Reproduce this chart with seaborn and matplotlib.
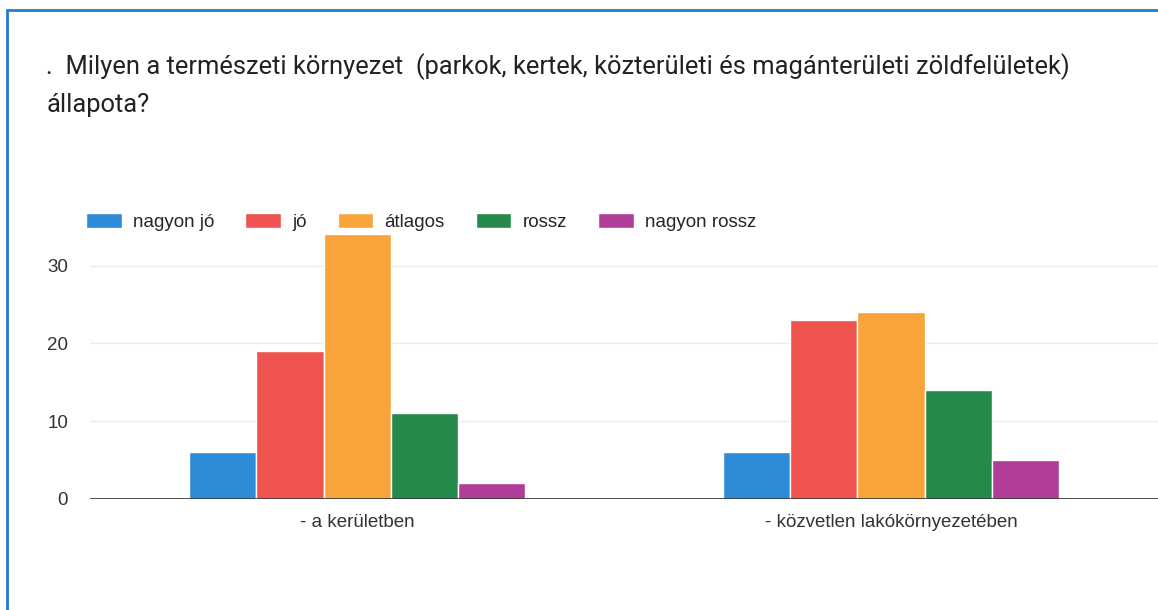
import matplotlib
matplotlib.use('Agg')
import matplotlib.pyplot as plt
import seaborn as sns
import pandas as pd
from matplotlib.patches import Patch

# ---------------------------------------------------------------
# DATA
# ---------------------------------------------------------------
groups = ['- a kerületben', '- közvetlen lakókörnyezetében']
answers = ['nagyon jó', 'jó', 'átlagos', 'rossz', 'nagyon rossz']
kerulet = [6, 19, 34, 11, 2]
lakokornyezet = [6, 23, 24, 14, 5]
colors = ['#2e8bd8', '#ee534f', '#f9a43a', '#25894b', '#b03d98']

title = ('.  Milyen a természeti környezet  (parkok, kertek, közterületi és magánterületi zöldfelületek)\n'
         'állapota?')

df = pd.DataFrame({
    'group': [groups[0]] * len(answers) + [groups[1]] * len(answers),
    'answer': answers * 2,
    'count': kerulet + lakokornyezet,
})

sns.set_style('white')
plt.rcParams['font.family'] = ['Liberation Sans', 'DejaVu Sans']

fig = plt.figure(figsize=(11.58, 6.10), dpi=100)
ax = fig.add_axes([0.078, 0.182, 0.922, 0.44])

sns.barplot(data=df, x='group', y='count', hue='answer', hue_order=answers,
            palette=colors, saturation=1, width=0.63, edgecolor='white',
            linewidth=1, legend=False, ax=ax)

ax.set_ylim(0, 34.5)
ax.set_xlim(-0.5, 1.5)
ax.set_yticks([0, 10, 20, 30])
ax.set_xlabel('')
ax.set_ylabel('')
for s in ax.spines.values():
    s.set_visible(False)
ax.grid(axis='y', color='#ececec', linewidth=1)
ax.set_axisbelow(True)
ax.axhline(0, color='#333333', linewidth=1.2)
ax.tick_params(axis='both', length=0, labelsize=13.5, colors='#333333')
ax.tick_params(axis='y', pad=16)
ax.tick_params(axis='x', pad=11)

handles = [Patch(facecolor=c, label=a) for a, c in zip(answers, colors)]
fig.legend(handles=handles, loc='center left', bbox_to_anchor=(0.068, 0.636),
           ncol=5, frameon=False, fontsize=13.5, handlelength=1.9, handleheight=0.8,
           columnspacing=1.65, handletextpad=0.6, borderaxespad=0)

fig.text(0.040, 0.860, title, fontsize=18.4, family=['Roboto', 'DejaVu Sans'],
         color='#222222', va='center', linespacing=1.67)

# blue frame of the form card (left and top edges)
fig.add_artist(plt.Line2D([0.006, 0.006], [0.0, 0.984], transform=fig.transFigure,
                          color='#1f7fd0', linewidth=2))
fig.add_artist(plt.Line2D([0.006, 1.0], [0.984, 0.984], transform=fig.transFigure,
                          color='#1f7fd0', linewidth=2))

plt.savefig('out.png', dpi=100)
